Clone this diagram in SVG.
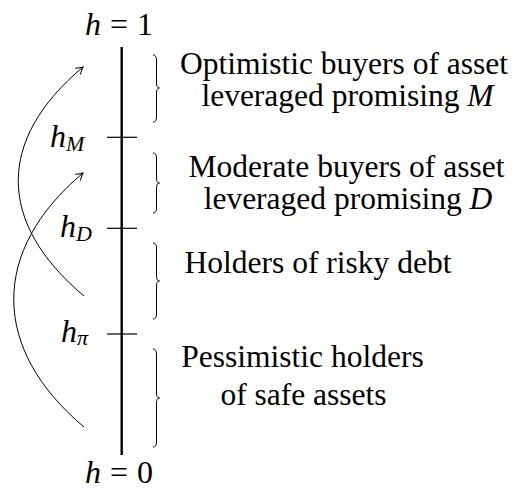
<svg xmlns="http://www.w3.org/2000/svg" width="516" height="491" viewBox="0 0 516 491">
<style>
text{font-family:"Liberation Serif","Times New Roman",Times,serif;font-size:31.5px;fill:#000}
.math{font-size:32px}
.it{font-style:italic}
.sub{font-style:italic;font-size:22px}
.tick{stroke:#000;stroke-width:1.2}
.brace{fill:none;stroke:#000;stroke-width:1}
.arc{fill:none;stroke:#000;stroke-width:1}
.mid{text-anchor:middle}
</style>
<defs>
<marker id="to" viewBox="-8 -5 10 10" markerWidth="10" markerHeight="10" refX="0" refY="0" orient="auto" markerUnits="userSpaceOnUse">
<path d="M-6.5,-3.8 Q-2,-0.8 0,0 Q-2,0.8 -6.5,3.8" fill="none" stroke="#000" stroke-width="1" stroke-linecap="round"/>
</marker>
</defs>
<g id="axis">
<line x1="121.7" y1="47" x2="121.7" y2="455" stroke="#000" stroke-width="2.4"/>
<line class="tick" x1="107" y1="137.3" x2="137" y2="137.3"/>
<line class="tick" x1="107" y1="228.3" x2="137" y2="228.3"/>
<line class="tick" x1="107" y1="334" x2="137" y2="334"/>
<text class="math" x="85" y="35"><tspan class="it">h</tspan><tspan dx="9">=</tspan><tspan dx="9">1</tspan></text>
<text class="math" x="85" y="483"><tspan class="it">h</tspan><tspan dx="9">=</tspan><tspan dx="9">0</tspan></text>
</g>
<g id="label-hM"><text class="math" x="50" y="147"><tspan class="it">h</tspan><tspan class="sub" dy="4">M</tspan></text></g>
<g id="label-hD"><text class="math" x="60" y="237"><tspan class="it">h</tspan><tspan class="sub" dy="4">D</tspan></text></g>
<g id="label-hpi"><text class="math" x="61" y="342"><tspan class="it">h</tspan><tspan class="sub" dy="3">π</tspan></text></g>
<g id="group-optimistic">
<path class="brace" d="M153,55 Q156.5,55 156.5,60 L156.5,83 Q156.5,88 159.5,88 Q156.5,88 156.5,93 L156.5,117 Q156.5,122 153,122"/>
<text class="mid" x="344" y="74">Optimistic buyers of asset</text>
<text class="mid" x="347.5" y="106">leveraged promising <tspan class="it">M</tspan></text>
</g>
<g id="group-moderate">
<path class="brace" d="M153,153 Q156.5,153 156.5,158 L156.5,178 Q156.5,183 159.5,183 Q156.5,183 156.5,188 L156.5,208 Q156.5,213 153,213"/>
<text class="mid" x="346.5" y="177">Moderate buyers of asset</text>
<text class="mid" x="348" y="209">leveraged promising <tspan class="it">D</tspan></text>
</g>
<g id="group-risky">
<path class="brace" d="M153,243 Q156.5,243 156.5,248 L156.5,276 Q156.5,281 159.5,281 Q156.5,281 156.5,286 L156.5,314 Q156.5,319 153,319"/>
<text class="mid" x="318" y="273">Holders of risky debt</text>
</g>
<g id="group-pessimistic">
<path class="brace" d="M153,349 Q156.5,349 156.5,354 L156.5,393 Q156.5,398 159.5,398 Q156.5,398 156.5,403 L156.5,442 Q156.5,447 153,447"/>
<text class="mid" x="302.5" y="367">Pessimistic holders</text>
<text class="mid" x="303.5" y="405">of safe assets</text>
</g>
<g id="connectors">
<path class="arc" d="M84,296 C-3,223 -4,140 83,67" marker-end="url(#to)"/>
<path class="arc" d="M84,427 C-9,349 -10,251 83,173" marker-end="url(#to)"/>
</g>
</svg>
